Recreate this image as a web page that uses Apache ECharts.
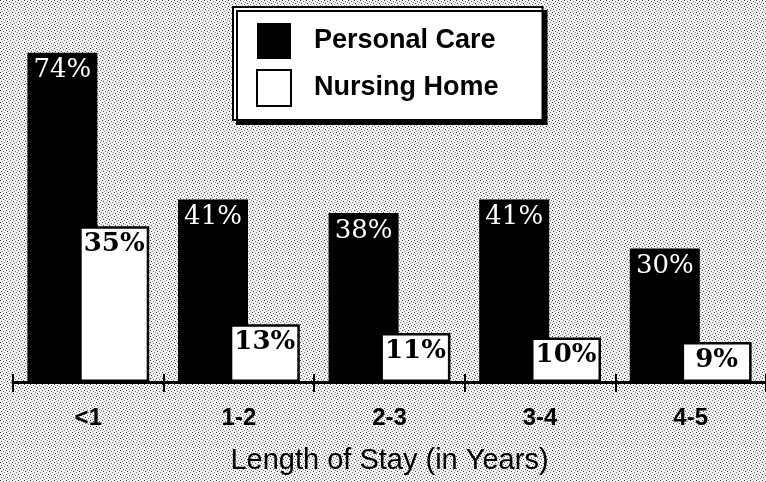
<!DOCTYPE html>
<html>
<head>
<meta charset="utf-8">
<script src="https://cdn.jsdelivr.net/npm/echarts@6/dist/echarts.min.js"></script>
<style>
  html, body { margin: 0; padding: 0; }
  #chart { width: 766px; height: 482px; }
</style>
</head>
<body>
<div id="chart"></div>
<script>
// Length of stay categories and share of residents (%)
const categories = ['<1', '1-2', '2-3', '3-4', '4-5'];
const personalCare = [74, 41, 38, 41, 30];
const nursingHome = [35, 13, 11, 10, 9];

// Small stippled tile used as the page texture
function stippleTile() {
  const c = document.createElement('canvas');
  c.width = 6; c.height = 6;
  const g = c.getContext('2d');
  g.fillStyle = '#f2f2f2';
  g.fillRect(0, 0, 6, 6);
  const dots = [[0, 0, '#333'], [3, 1, '#666'], [1, 3, '#444'], [4, 4, '#777'], [2, 5, '#999'], [5, 2, '#888']];
  dots.forEach(([x, y, col]) => { g.fillStyle = col; g.fillRect(x, y, 1, 1); });
  return c;
}

const chart = echarts.init(document.getElementById('chart'));

const serifLabel = {
  show: true,
  position: 'insideTop',
  distance: 5,
  formatter: '{c}%',
  fontFamily: 'DejaVu Serif',
  fontWeight: 'bold',
  fontSize: 26
};

chart.setOption({
  backgroundColor: { image: stippleTile(), repeat: 'repeat' },
  animation: false,
  grid: { left: 13, right: -2, top: 26, bottom: 100, containLabel: false },
  legend: {
    orient: 'vertical',
    left: 233,
    top: 7,
    padding: [16, 44, 13, 23],
    itemWidth: 34,
    itemHeight: 36,
    itemGap: 10,
    backgroundColor: '#fff',
    borderColor: '#000',
    borderWidth: 2,
    borderRadius: 0,
    shadowColor: '#000',
    shadowBlur: 0,
    shadowOffsetX: 4,
    shadowOffsetY: 4,
    icon: 'rect',
    textStyle: {
      fontFamily: 'Liberation Sans',
      fontWeight: 'bold',
      fontSize: 27,
      color: '#000',
      padding: [0, 0, 0, 18]
    },
    data: ['Personal Care', 'Nursing Home']
  },
  xAxis: [
    {
      type: 'category',
      data: categories,
      axisLine: { lineStyle: { color: '#000', width: 3 } },
      axisTick: { show: true, length: 10, lineStyle: { color: '#000', width: 2 } },
      axisLabel: {
        margin: 24,
        color: '#000',
        fontFamily: 'Liberation Sans',
        fontWeight: 'bold',
        fontSize: 24
      },
      name: 'Length of Stay (in Years)',
      nameLocation: 'middle',
      nameGap: 64,
      nameTextStyle: {
        color: '#000',
        fontFamily: 'Liberation Sans',
        fontSize: 29
      }
    },
    {
      // upper half of the tick marks, crossing the baseline
      type: 'category',
      data: categories,
      position: 'bottom',
      axisLine: { show: false },
      axisTick: { show: true, inside: true, length: 8, lineStyle: { color: '#000', width: 2 } },
      axisLabel: { show: false }
    }
  ],
  yAxis: {
    type: 'value',
    min: 0,
    max: 80,
    show: false,
    splitLine: { show: false }
  },
  series: [
    {
      name: 'Personal Care',
      type: 'bar',
      data: personalCare,
      barWidth: 70,
      barGap: '-26%',
      itemStyle: { color: '#000' },
      label: Object.assign({}, serifLabel, { color: '#fff', fontWeight: 'normal', fontSize: 26 })
    },
    {
      name: 'Nursing Home',
      type: 'bar',
      data: nursingHome,
      barWidth: 70,
      itemStyle: { color: '#fff', borderColor: '#000', borderWidth: 2.5 },
      label: Object.assign({}, serifLabel, { color: '#000' })
    }
  ]
});
</script>
</body>
</html>
